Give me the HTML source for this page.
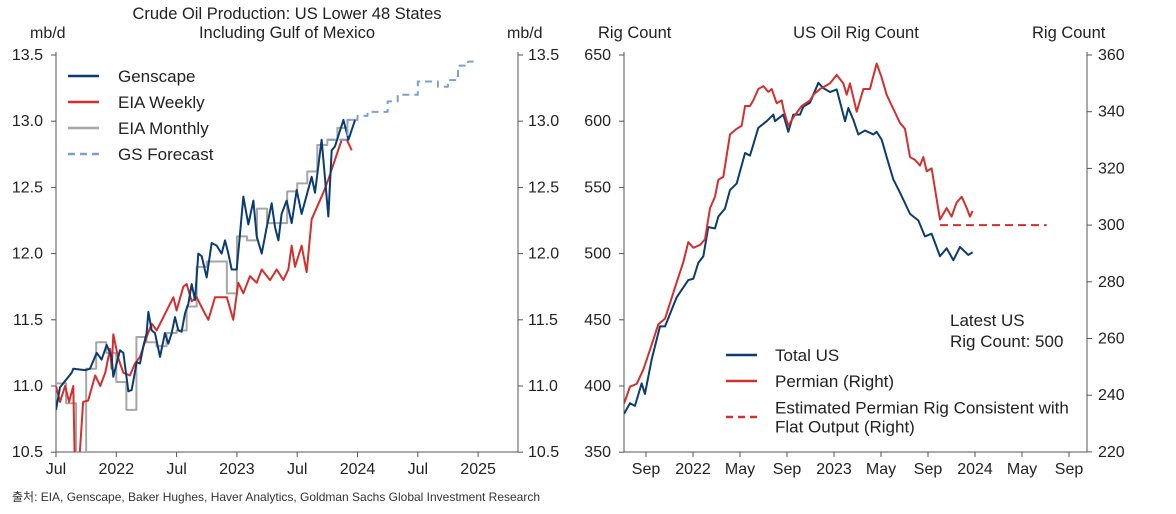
<!DOCTYPE html>
<html><head><meta charset="utf-8"><style>
body{margin:0;background:#fff;width:1176px;height:509px;overflow:hidden}
svg{font-family:"Liberation Sans","Noto Sans CJK KR",sans-serif}
</style></head><body>
<svg id="c" width="1176" height="509">
<text x="287" y="19" font-size="16.5" text-anchor="middle" fill="#222">Crude Oil Production: US Lower 48 States</text>
<text x="287" y="38" font-size="16.5" text-anchor="middle" fill="#222">Including Gulf of Mexico</text>
<text x="30" y="38" font-size="16" fill="#222">mb/d</text>
<text x="507" y="38" font-size="16" fill="#222">mb/d</text>
<text x="598" y="38" font-size="16.5" fill="#222">Rig Count</text>
<text x="856" y="38" font-size="16.5" text-anchor="middle" fill="#222">US Oil Rig Count</text>
<text x="1032" y="38" font-size="16.5" fill="#222">Rig Count</text>
<text x="12" y="501" font-size="12" fill="#333" textLength="528" lengthAdjust="spacingAndGlyphs">출처: EIA, Genscape, Baker Hughes, Haver Analytics, Goldman Sachs Global Investment Research</text>
<g id="g"></g>
</svg>
<script>
// ---- Left chart data (months since Jul 2021) ----
const gensM=[0,0.4,1.56,1.72,2.89,3.38,4.05,4.54,5.04,5.54,5.7,6.37,6.7,7.2,7.53,8.03,8.36,8.69,9.02,9.19,9.52,9.85,10.35,10.84,11.18,11.51,11.84,12.17,12.5,12.84,13.17,13.5,13.83,14.16,14.5,14.99,15.49,15.99,16.48,16.82,17.15,17.48,17.98,18.31,18.64,19.14,19.64,19.97,20.47,20.97,21.46,21.79,22.13,22.45,22.95,23.45,23.95,24.44,25.44,25.77,26.43,27.1,27.43,27.76,28.6,29.1,29.76];
const gensV=[10.82,10.99,11.1,11.13,11.12,11.13,11.25,11.2,11.31,11.22,11.07,11.27,11.25,10.96,10.97,11.18,11.17,11.3,11.4,11.56,11.42,11.4,11.22,11.4,11.32,11.4,11.52,11.42,11.41,11.55,11.62,11.77,11.65,12.0,11.98,11.82,12.08,12.06,12.0,12.1,12.0,11.88,11.88,12.15,12.43,12.22,12.4,12.13,12.0,12.2,12.38,12.2,12.1,12.3,12.4,12.23,12.48,12.3,12.58,12.46,12.86,12.28,12.78,12.81,13.01,12.86,13.01];
const eiaWM=[0,0.4,0.9,1.3,1.72,1.9,2.2,2.7,3.2,3.9,4.4,4.9,5.38,5.54,5.7,6.2,6.7,7.36,7.86,8.36,9.02,9.52,10.02,11.01,11.68,12.0,12.67,13.0,13.5,14.0,14.66,15.16,15.82,17.0,17.64,18.14,18.64,19.3,19.97,20.47,21.3,21.96,22.62,23.12,23.45,23.78,24.44,24.94,25.44,26.6,27.1,28.43,28.93,29.43];
const eiaWV=[11.0,10.88,11.0,10.88,11.0,10.3,10.3,10.88,10.89,11.08,11.0,11.1,11.28,11.13,11.39,11.21,11.1,11.08,11.17,11.22,11.37,11.47,11.42,11.57,11.67,11.57,11.75,11.77,11.64,11.67,11.57,11.5,11.67,11.67,11.5,11.78,11.7,11.83,11.78,11.88,11.8,11.88,11.8,11.88,12.06,11.9,12.06,11.86,12.26,12.46,12.56,12.86,12.86,12.78];
const eiaMV=[11.02,10.87,10.5,11.13,11.33,11.25,11.03,10.82,11.37,11.33,11.3,11.4,11.42,11.6,11.9,11.94,11.94,11.7,12.13,12.1,12.34,12.23,12.23,12.47,12.53,12.62,12.82,12.86,12.95,13.01];
const fcM=[27,28,29,30,31,32,33,34,35,36,37,38,39,40,41,42];
const fcV=[12.86,12.86,13.01,13.04,13.07,13.07,13.15,13.2,13.2,13.3,13.3,13.26,13.31,13.42,13.45,13.45];
const leftYTicks=[10.5,11.0,11.5,12.0,12.5,13.0,13.5];
const leftXLabels=["Jul","2022","Jul","2023","Jul","2024","Jul","2025"];
// ---- Right chart data (months since Jul 2021) ----
const usM=[0.13,0.64,1.06,1.63,1.91,2.48,3.19,3.62,4.61,5.6,6.03,6.45,6.88,7.3,7.87,8.16,8.72,9.15,9.72,10.43,10.85,11.56,12.27,12.84,12.98,13.69,14.11,14.54,15.11,15.39,15.96,16.67,17.09,17.66,18.23,18.94,19.22,19.65,20.07,20.64,21.35,21.63,22.06,22.48,23.05,23.62,24.47,25.18,25.74,26.31,27.02,27.59,28.16,28.72,29.43,29.8];
const usV=[379,387,385,402,394,420,445,445,467,480,481,493,498,520,519,528,534,548,553,576,574,595,600,605,600,605,592,605,605,611,614,629,625,622,624,600,610,601,590,593,590,592,586,573,556,546,530,525,513,515,498,504,495,505,499,501];
const pmM=[0.13,0.64,1.21,1.77,2.34,3.05,3.62,4.47,5.18,5.6,6.03,6.6,7.02,7.45,7.87,8.16,8.58,9.15,9.72,10.14,10.43,10.85,11.13,11.56,11.99,12.41,12.7,13.12,13.55,13.69,14.11,14.54,15.25,15.96,16.24,16.81,17.66,18.23,18.79,19.08,19.36,19.93,20.5,21.06,21.63,22.06,22.48,23.05,23.62,24.04,24.47,24.89,25.32,25.6,25.89,26.31,27.02,27.59,28.01,28.44,28.87,29.3,29.57,29.8];
const pmV=[237,243,244,249,256,265,267,278,287,294,292,293,295,306,310,316,317,332,334,335,342,342,344,348,349,347,348,343,344,341,335,338,342,344,346,348,350,353,350,346,350,340,348,348,357,352,346,341,336,334,324,323,321,324,319,320,302,306,303,308,310,306,303,305];
const estM=[27.02,36.1];
const estV=[300,300];
const rightYTicks=[350,400,450,500,550,600,650];
const rightY2Ticks=[220,240,260,280,300,320,340,360];
const rightXLabels=["Sep","2022","May","Sep","2023","May","Sep","2024","May","Sep"];
const rightXMonths=[2,6,10,14,18,22,26,30,34,38];

const NS="http://www.w3.org/2000/svg",G=document.getElementById('g');
function mk(t,a,p){const e=document.createElementNS(NS,t);for(const k in a)e.setAttribute(k,a[k]);(p||G).appendChild(e);return e;}
const lx=m=>56+m*10.05, ly=v=>55+(13.5-v)/0.5*66.2;
const rx=m=>622.5+m*11.75, ry=v=>55+(650-v)/50*66.2, ry2=v=>55+(360-v)/20*56.7;
function clip(id,x,y,w,h){const d=mk('defs',{});const c=mk('clipPath',{id:id},d);mk('rect',{x:x,y:y,width:w,height:h},c);}
clip('cl',56,50,462,402);clip('cr',624,50,463,402);
const AX='#555', FS=16;
let a=mk('line',{x1:56,y1:52,x2:56,y2:452,stroke:AX});
a=mk('line',{x1:518,y1:52,x2:518,y2:452,stroke:AX});
a=mk('line',{x1:56,y1:452,x2:518,y2:452,stroke:AX});
leftYTicks.forEach(v=>{const y=ly(v);mk('line',{x1:51,y1:y,x2:56,y2:y,stroke:AX});mk('line',{x1:518,y1:y,x2:523,y2:y,stroke:AX});
 let t=mk('text',{x:43,y:y+5,'font-size':FS,'text-anchor':'end',fill:'#222'});t.textContent=v.toFixed(1);
 t=mk('text',{x:528,y:y+5,'font-size':FS,fill:'#222'});t.textContent=v.toFixed(1);});
leftXLabels.forEach((s,i)=>{const x=lx(i*6);mk('line',{x1:x,y1:452,x2:x,y2:457,stroke:AX});
 const t=mk('text',{x:x,y:474,'font-size':FS,'text-anchor':'middle',fill:'#222'});t.textContent=s;});
a=mk('line',{x1:624,y1:52,x2:624,y2:452,stroke:AX});
a=mk('line',{x1:1087,y1:52,x2:1087,y2:452,stroke:AX});
a=mk('line',{x1:624,y1:452,x2:1087,y2:452,stroke:AX});
rightYTicks.forEach(v=>{const y=ry(v);mk('line',{x1:619,y1:y,x2:624,y2:y,stroke:AX});
 const t=mk('text',{x:611,y:y+5,'font-size':FS,'text-anchor':'end',fill:'#222'});t.textContent=v;});
rightY2Ticks.forEach(v=>{const y=ry2(v);mk('line',{x1:1087,y1:y,x2:1092,y2:y,stroke:AX});
 const t=mk('text',{x:1098,y:y+5,'font-size':FS,fill:'#222'});t.textContent=v;});
rightXLabels.forEach((s,i)=>{const x=rx(rightXMonths[i]);mk('line',{x1:x,y1:452,x2:x,y2:457,stroke:AX});
 const t=mk('text',{x:x,y:474,'font-size':FS,'text-anchor':'middle',fill:'#222'});t.textContent=s;});
function line(ms,vs,fx,fy,col,name,cp,dash,step){let d='';ms.forEach((m,i)=>{const x=fx(m),y=fy(vs[i]);
 if(step){d+=(i?'L':'M')+x+','+y+'L'+fx(m+1)+','+y;}else d+=(i?'L':'M')+x+','+y;});
 const p=mk('path',{d:d,fill:'none',stroke:col,'stroke-width':2,'clip-path':'url(#'+cp+')','stroke-linejoin':'round'});
 if(dash)p.setAttribute('stroke-dasharray',dash);
 }
const MON=eiaMV.map((v,i)=>i);
line(MON,eiaMV,lx,ly,'#a6a6a6','eia-monthly-line','cl',null,true);
line(eiaWM,eiaWV,lx,ly,'#d32f2f','eia-weekly-line','cl');
line(gensM,gensV,lx,ly,'#0b3c6e','genscape-line','cl');
line(fcM.slice(0,-1),fcV.slice(0,-1),lx,ly,'#7aa0d4','gs-forecast-line','cl','7,5',true);
line(usM,usV,rx,ry,'#0b3c6e','total-us-line','cr');
line(pmM,pmV,rx,ry2,'#d32f2f','permian-line','cr');
line(estM,estV,rx,ry2,'#d32f2f','estimated-permian-line','cr','8,5');
function leg(x,y,col,dash,label,name,tx){const l=mk('line',{x1:x,y1:y,x2:x+31,y2:y,stroke:col,'stroke-width':2.5});if(dash)l.setAttribute('stroke-dasharray',dash);
 
 const lines=label.split('|');lines.forEach((s,i)=>{const t=mk('text',{x:tx,y:y+6+(i-(lines.length-1)/2)*19,'font-size':17,fill:'#222'});t.textContent=s;});}
leg(68,76,'#0b3c6e',null,'Genscape','legend-genscape',118);
leg(68,102,'#d32f2f',null,'EIA Weekly','legend-eia-weekly',118);
leg(68,128,'#a6a6a6',null,'EIA Monthly','legend-eia-monthly',118);
leg(68,154,'#7aa0d4','7,5','GS Forecast','legend-gs-forecast',118);
leg(726,355,'#0b3c6e',null,'Total US','legend-total-us',775);
leg(726,381,'#d32f2f',null,'Permian (Right)','legend-permian',775);
leg(726,417,'#d32f2f','7,5','Estimated Permian Rig Consistent with|Flat Output (Right)','legend-estimated-permian',775);
let t=mk('text',{x:950,y:326,'font-size':17,fill:'#222'});t.textContent='Latest US';
t=mk('text',{x:950,y:347,'font-size':17,fill:'#222'});t.textContent='Rig Count: 500';
</script>
</body></html>
